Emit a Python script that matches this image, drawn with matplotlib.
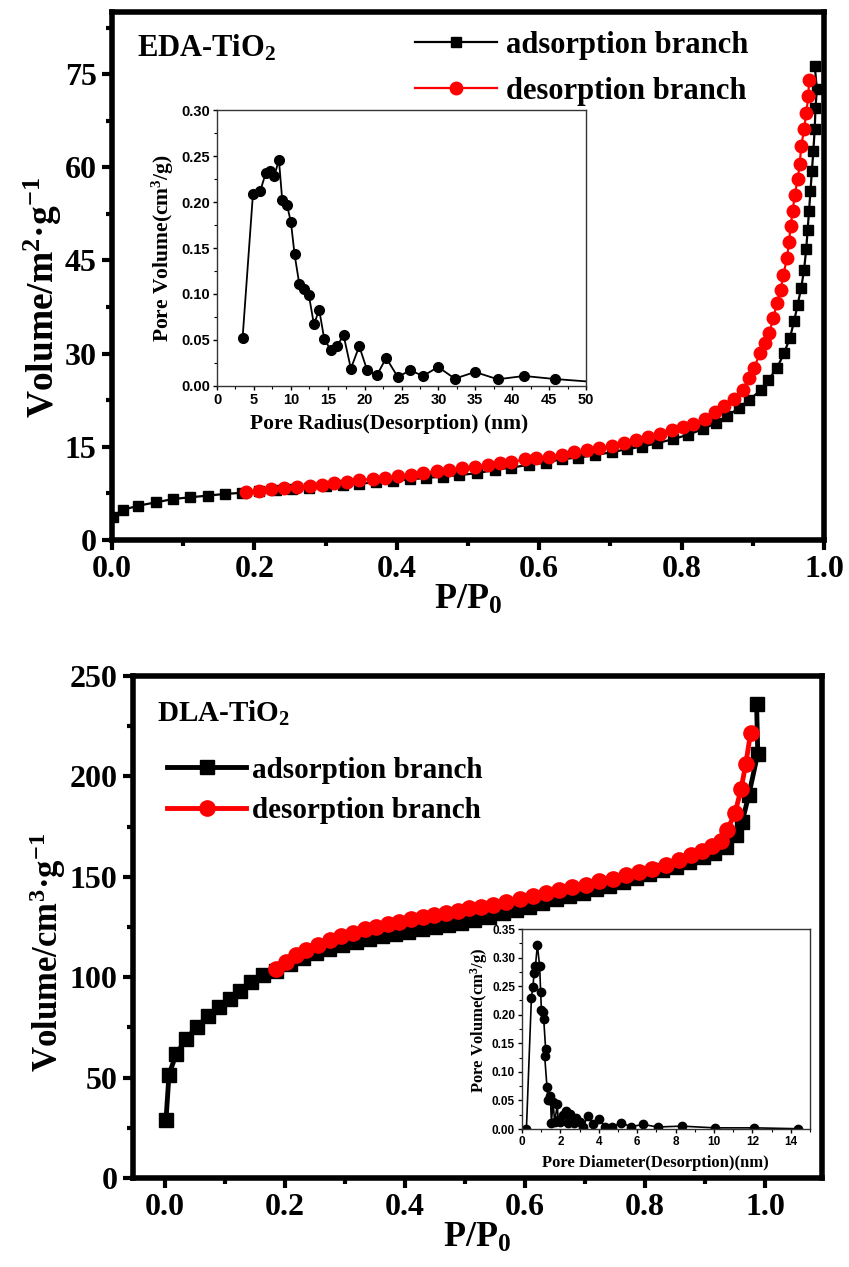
import matplotlib
matplotlib.use("Agg")
import matplotlib.pyplot as plt
from matplotlib.ticker import MultipleLocator

plt.rcParams['font.family'] = ['Liberation Serif', 'DejaVu Serif']
plt.rcParams['font.weight'] = 'bold'
plt.rcParams['mathtext.default'] = 'regular'
plt.rcParams['axes.unicode_minus'] = False

# ---------------- EDA-TiO2 (top) ----------------
eda_ads_x = [0.001, 0.015, 0.037, 0.062, 0.086, 0.110, 0.135, 0.159, 0.183, 0.206,
             0.230, 0.253, 0.277, 0.300, 0.324, 0.347, 0.371, 0.394, 0.418, 0.441,
             0.465, 0.488, 0.512, 0.538, 0.561, 0.586, 0.610, 0.632, 0.655, 0.678,
             0.702, 0.723, 0.745, 0.766, 0.788, 0.809, 0.830, 0.848, 0.864, 0.880,
             0.895, 0.911, 0.922, 0.934, 0.944, 0.952, 0.958, 0.963, 0.968, 0.972,
             0.975, 0.977, 0.979, 0.981, 0.983, 0.985, 0.987, 0.988, 0.990, 0.987]
eda_ads_y = [3.76, 4.84, 5.53, 6.07, 6.60, 6.88, 7.15, 7.42, 7.60, 7.85,
             8.05, 8.25, 8.45, 8.65, 8.85, 9.05, 9.30, 9.50, 9.75, 10.00,
             10.20, 10.45, 10.75, 11.29, 11.67, 12.10, 12.47, 13.01, 13.28, 13.66,
             14.14, 14.62, 15.05, 15.59, 16.24, 16.94, 17.85, 18.82, 19.89, 21.24,
             22.58, 24.08, 25.8, 27.7, 30.1, 32.5, 35.2, 37.9, 40.6, 43.5,
             46.8, 49.9, 53.0, 56.2, 59.4, 62.6, 66.2, 69.5, 72.6, 76.3]
eda_des_x = [0.188, 0.207, 0.224, 0.242, 0.260, 0.278, 0.295, 0.312, 0.330, 0.347,
             0.366, 0.384, 0.402, 0.420, 0.437, 0.456, 0.474, 0.491, 0.510, 0.528,
             0.545, 0.561, 0.580, 0.596, 0.614, 0.632, 0.649, 0.667, 0.684, 0.702,
             0.719, 0.736, 0.753, 0.770, 0.786, 0.802, 0.816, 0.833, 0.847, 0.860,
             0.873, 0.886, 0.894, 0.902, 0.910, 0.917, 0.923, 0.929, 0.934, 0.939,
             0.943, 0.948, 0.951, 0.953, 0.956, 0.959, 0.963, 0.966, 0.968, 0.972,
             0.975, 0.978, 0.979]
eda_des_y = [7.69, 7.96, 8.17, 8.33, 8.49, 8.71, 8.82, 9.14, 9.35, 9.62,
             9.84, 10.05, 10.27, 10.48, 10.75, 11.13, 11.34, 11.56, 11.83, 12.10,
             12.37, 12.53, 13.01, 13.28, 13.44, 13.76, 14.09, 14.41, 14.78, 15.16,
             15.59, 16.13, 16.56, 16.99, 17.63, 18.17, 18.71, 19.46, 20.54, 21.61,
             22.74, 24.2, 26.1, 27.7, 30.1, 31.7, 33.3, 35.8, 38.2, 40.3,
             42.7, 45.4, 48.0, 50.5, 53.0, 55.6, 58.1, 60.6, 63.4, 66.1,
             68.7, 71.4, 74.1]

eda_pore_r = [3.47, 4.87, 5.87, 6.59, 7.18, 7.76, 8.39, 8.84, 9.48, 10.02,
              10.51, 11.15, 11.82, 12.45, 13.13, 13.85, 14.53, 15.43, 16.25, 17.15,
              18.14, 19.27, 20.35, 21.66, 22.92, 24.50, 26.17, 27.93, 29.96, 32.22,
              34.97, 38.04, 41.61, 45.76, 55.0]
eda_pore_v = [0.0526, 0.2086, 0.2123, 0.231, 0.234, 0.228, 0.246, 0.202, 0.1967, 0.178,
              0.143, 0.111, 0.105, 0.0987, 0.0671, 0.0827, 0.0512, 0.0388, 0.0435, 0.0552,
              0.0189, 0.0432, 0.0171, 0.0116, 0.0305, 0.0098, 0.0171, 0.0109, 0.0207, 0.0080,
              0.0152, 0.0073, 0.0109, 0.0076, 0.002]

# ---------------- DLA-TiO2 (bottom) ----------------
dla_ads_x = [0.002, 0.007, 0.019, 0.036, 0.053, 0.072, 0.090, 0.108, 0.126, 0.144,
             0.164, 0.186, 0.208, 0.230, 0.252, 0.274, 0.296, 0.318, 0.340, 0.362,
             0.384, 0.406, 0.428, 0.450, 0.472, 0.494, 0.516, 0.540, 0.563, 0.585,
             0.607, 0.629, 0.652, 0.674, 0.696, 0.718, 0.740, 0.763, 0.785, 0.807,
             0.829, 0.851, 0.874, 0.896, 0.915, 0.935, 0.951, 0.962, 0.973, 0.988, 0.986]
dla_ads_y = [29.1, 51.5, 61.8, 69.2, 75.2, 80.5, 85.4, 89.3, 93.2, 97.4,
             100.9, 103.0, 106.5, 109.5, 112.0, 114.0, 116.0, 117.6, 119.0, 120.3,
             121.5, 122.7, 123.8, 124.9, 126.0, 127.2, 128.5, 130.2, 131.9, 133.5,
             135.1, 137.1, 138.8, 140.5, 142.1, 143.8, 145.4, 147.3, 149.2, 151.4,
             153.4, 155.0, 157.5, 160.0, 161.7, 165.0, 170.8, 177.4, 190.7, 211.4, 236.2]
dla_des_x = [0.186, 0.202, 0.219, 0.236, 0.255, 0.275, 0.294, 0.313, 0.333, 0.352,
             0.372, 0.391, 0.410, 0.430, 0.449, 0.469, 0.488, 0.507, 0.526, 0.546,
             0.569, 0.591, 0.613, 0.635, 0.657, 0.679, 0.702, 0.724, 0.746, 0.768,
             0.790, 0.812, 0.835, 0.857, 0.876, 0.895, 0.912, 0.926, 0.937, 0.950,
             0.960, 0.968, 0.976]
dla_des_y = [104.0, 107.8, 111.1, 113.6, 116.1, 118.6, 120.6, 122.2, 123.9, 125.2,
             126.4, 127.7, 128.9, 129.9, 131.0, 131.9, 133.0, 134.3, 135.0, 136.2,
             137.6, 139.0, 140.5, 142.1, 143.4, 144.8, 146.1, 147.8, 149.1, 150.7,
             152.4, 154.1, 156.1, 158.6, 160.7, 162.7, 165.2, 167.7, 173.3, 181.6,
             193.5, 206.1, 221.6]

dla_pore_d = [0.23, 0.49, 0.57, 0.63, 0.70, 0.80, 0.92, 0.97, 1.01, 1.10,
              1.13, 1.23, 1.18, 1.30, 1.36, 1.48, 1.53, 1.62, 1.70, 1.84,
              1.88, 2.00, 2.14, 2.28, 2.40, 2.52, 2.63, 2.71, 2.83, 3.01,
              3.18, 3.44, 3.70, 4.00, 4.31, 4.70, 5.15, 5.67, 6.31, 7.06,
              8.31, 10.05, 12.1, 14.35]
dla_pore_v = [0.000, 0.230, 0.249, 0.273, 0.285, 0.322, 0.285, 0.240, 0.209, 0.204,
              0.193, 0.140, 0.128, 0.074, 0.051, 0.058, 0.011, 0.048, 0.012, 0.043,
              0.016, 0.012, 0.025, 0.032, 0.010, 0.026, 0.018, 0.011, 0.020, 0.013,
              0.004, 0.023, 0.009, 0.018, 0.004, 0.004, 0.011, 0.004, 0.008, 0.0035,
              0.005, 0.002, 0.002, 0.0005]

W, H = 849, 1267
fig = plt.figure(figsize=(W / 100, H / 100), dpi=100)


def rect(l, t, r, b):
    return [l / W, 1 - b / H, (r - l) / W, (b - t) / H]


def style_main(ax, lw=3.5):
    for s in ax.spines.values():
        s.set_linewidth(lw)
    ax.tick_params(which='major', direction='out', length=7, width=3, labelsize=23, pad=4)
    ax.tick_params(which='minor', direction='out', length=4, width=3)
    for lab in ax.get_xticklabels() + ax.get_yticklabels():
        lab.set_fontweight('bold')


def style_inset(ax, labsize):
    for s in ax.spines.values():
        s.set_linewidth(1.0)
        s.set_color('#333333')
    ax.tick_params(which='major', direction='out', length=3, width=1, labelsize=labsize, pad=2)
    ax.tick_params(which='minor', direction='out', length=2, width=0.8)
    for lab in ax.get_xticklabels() + ax.get_yticklabels():
        lab.set_fontfamily('Liberation Sans')
        lab.set_fontweight('bold')


# ---- top main ----
ax1 = fig.add_axes(rect(112, 12, 824, 540))
ax1.plot(eda_ads_x, eda_ads_y, color='black', lw=1.6, marker='s', ms=7,
         label='adsorption branch', zorder=3)
ax1.plot(eda_des_x, eda_des_y, color='red', lw=1.6, marker='o', ms=9,
         label='desorption branch', zorder=4)
ax1.set_xlim(0, 1.0)
ax1.set_ylim(0, 85)
ax1.set_xticks([0, 0.2, 0.4, 0.6, 0.8, 1.0])
ax1.set_xticklabels(['0.0', '0.2', '0.4', '0.6', '0.8', '1.0'])
ax1.xaxis.set_minor_locator(MultipleLocator(0.1))
ax1.yaxis.set_major_locator(MultipleLocator(15))
ax1.yaxis.set_minor_locator(MultipleLocator(7.5))
style_main(ax1, 4)
ax1.set_xlabel('P/P$_0$', fontsize=26, fontweight='bold', labelpad=0)
ax1.set_ylabel('Volume/m$^2$·g$^{-1}$', fontsize=27, fontweight='bold')
ax1.yaxis.set_label_coords(-0.068, 0.46)
ax1.text(0.035, 0.96, 'EDA-TiO$_2$', transform=ax1.transAxes, fontsize=22,
         fontweight='bold', va='top', ha='left')
ax1.legend(loc='upper left', bbox_to_anchor=(0.395, 1.005), frameon=False,
           prop={'family': 'Liberation Serif', 'weight': 'bold', 'size': 22},
           handlelength=2.7, handletextpad=0.3, labelspacing=0.55, borderaxespad=0.3)

# ---- top inset ----
ax1i = fig.add_axes(rect(217, 110, 586, 386))
ax1i.plot(eda_pore_r, eda_pore_v, color='black', lw=1.3, marker='o', ms=7)
ax1i.set_xlim(0, 50)
ax1i.set_ylim(0, 0.30)
ax1i.xaxis.set_major_locator(MultipleLocator(5))
ax1i.xaxis.set_minor_locator(MultipleLocator(2.5))
ax1i.yaxis.set_minor_locator(MultipleLocator(0.025))
ax1i.set_yticks([0, 0.05, 0.10, 0.15, 0.20, 0.25, 0.30])
ax1i.set_yticklabels(['0.00', '0.05', '0.10', '0.15', '0.20', '0.25', '0.30'])
style_inset(ax1i, 10.5)
ax1i.set_xlabel('Pore Radius(Desorption) (nm)', fontsize=15.5, fontweight='bold')
ax1i.xaxis.set_label_coords(0.466, -0.1)
ax1i.set_ylabel('Pore Volume(cm$^3$/g)', fontsize=15.5, fontweight='bold')
ax1i.yaxis.set_label_coords(-0.112, 0.5)

# ---- bottom main ----
ax2 = fig.add_axes(rect(133, 676, 822, 1178))
ax2.plot(dla_ads_x, dla_ads_y, color='black', lw=3.5, marker='s', ms=10,
         label='adsorption branch', zorder=3)
ax2.plot(dla_des_x, dla_des_y, color='red', lw=3.5, marker='o', ms=11,
         label='desorption branch', zorder=4)
ax2.set_xlim(-0.053, 1.095)
ax2.set_ylim(0, 250)
ax2.set_xticks([0, 0.2, 0.4, 0.6, 0.8, 1.0])
ax2.set_xticklabels(['0.0', '0.2', '0.4', '0.6', '0.8', '1.0'])
ax2.xaxis.set_minor_locator(MultipleLocator(0.1))
ax2.yaxis.set_major_locator(MultipleLocator(50))
ax2.yaxis.set_minor_locator(MultipleLocator(25))
style_main(ax2, 4)
ax2.set_xlabel('P/P$_0$', fontsize=26, fontweight='bold', labelpad=0)
ax2.set_ylabel('Volume/cm$^3$·g$^{-1}$', fontsize=25, fontweight='bold')
ax2.yaxis.set_label_coords(-0.094, 0.45)
ax2.text(0.035, 0.955, 'DLA-TiO$_2$', transform=ax2.transAxes, fontsize=21,
         fontweight='bold', va='top', ha='left')
ax2.legend(loc='upper left', bbox_to_anchor=(0.02, 0.88), frameon=False,
           prop={'family': 'Liberation Serif', 'weight': 'bold', 'size': 21},
           handlelength=2.7, handletextpad=0.2, labelspacing=0.45, borderaxespad=0.3)

# ---- bottom inset ----
ax2i = fig.add_axes(rect(522, 929, 810, 1129))
ax2i.plot(dla_pore_d, dla_pore_v, color='black', lw=1.2, marker='o', ms=6)
ax2i.set_xlim(0, 15)
ax2i.set_ylim(0, 0.35)
ax2i.xaxis.set_major_locator(MultipleLocator(2))
ax2i.xaxis.set_minor_locator(MultipleLocator(1))
ax2i.yaxis.set_minor_locator(MultipleLocator(0.025))
ax2i.set_yticks([0, 0.05, 0.10, 0.15, 0.20, 0.25, 0.30, 0.35])
ax2i.set_yticklabels(['0.00', '0.05', '0.10', '0.15', '0.20', '0.25', '0.30', '0.35'])
style_inset(ax2i, 8.5)
ax2i.set_xlabel('Pore Diameter(Desorption)(nm)', fontsize=12, fontweight='bold')
ax2i.xaxis.set_label_coords(0.462, -0.13)
ax2i.set_ylabel('Pore Volume(cm$^3$/g)', fontsize=12, fontweight='bold')
ax2i.yaxis.set_label_coords(-0.112, 0.545)

fig.savefig('out.png', dpi=100)
